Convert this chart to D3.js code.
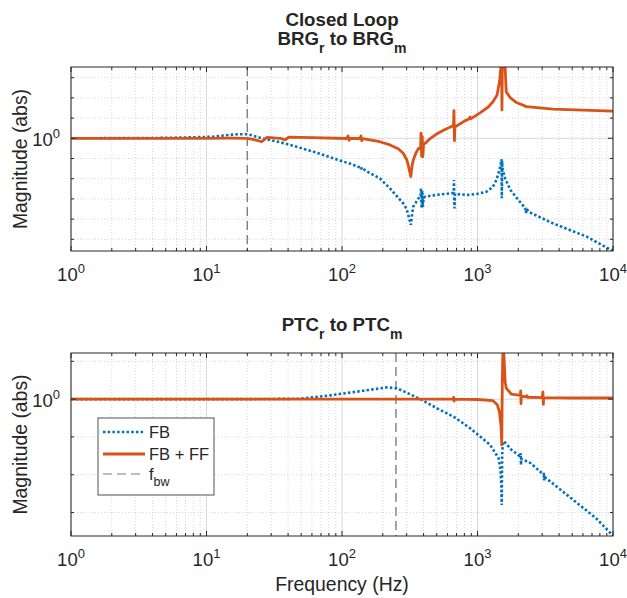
<!DOCTYPE html>
<html>
<head>
<meta charset="utf-8">
<script src="https://cdn.jsdelivr.net/npm/d3@7"></script>
<style>
body { margin: 0; background: #fff; }
text { font-family: "Liberation Sans", Arial, sans-serif; fill: #262626; }
</style>
</head>
<body>
<script>
// values: frequency (Hz) and magnitude (abs)
var brg_fb_freq = [1, 5, 8, 11.2, 14, 17, 20, 21.6, 25, 27.9, 35, 41.5, 61.3, 96.6, 120, 136, 138, 140, 142,
    161, 190, 226, 283, 300, 310, 322, 330, 336, 367, 380, 383, 387, 391, 395, 400, 410, 500, 643, 668, 670,
    676, 682, 700, 840, 1000, 1170, 1300, 1380, 1450, 1490, 1505, 1512, 1520, 1530, 1600, 1750, 2000, 2250,
    2280, 2300, 2400, 3600, 6400, 10000];
var brg_fb_mag = [1, 1.047, 1.122, 1.202, 1.413, 1.585, 1.585, 1.413, 1.047, 0.891, 0.631, 0.468, 0.219,
    0.0794, 0.0501, 0.0355, 0.0398, 0.0282, 0.0316, 0.0186, 0.0105, 0.00331, 0.000603, 0.000316, 0.000141,
    5.13e-5, 0.0002, 0.000417, 0.00107, 0.00126, 0.00331, 0.000339, 0.00251, 0.000398, 0.00112, 0.00129,
    0.00158, 0.00191, 0.002, 0.00871, 0.000339, 0.00178, 0.00174, 0.00155, 0.00178, 0.00229, 0.00398,
    0.00871, 0.0251, 0.0631, 0.0912, 0.00107, 0.0794, 0.0316, 0.01, 0.00275, 0.000891, 0.000355, 0.0002,
    0.000316, 0.000224, 6.17e-5, 1.35e-5, 2.63e-6];

var brg_ff_freq = [1, 10, 15, 20, 22, 25.5, 28, 35, 38, 40.5, 60, 108, 111, 113, 115, 136, 138, 140, 142,
    190, 226, 260, 283, 300, 308, 322, 330, 336, 350, 367, 380, 383, 387, 391, 395, 400, 410, 450, 498, 580,
    643, 665, 670, 676, 682, 700, 800, 870, 880, 890, 1050, 1200, 1300, 1395, 1460, 1490, 1505, 1515, 1525,
    1596, 1630, 1750, 1940, 2300, 3600, 10000];
var brg_ff_mag = [1, 1, 1.023, 1, 0.891, 0.676, 1.122, 1, 0.832, 1.148, 1.072, 0.977, 1.318, 0.794, 0.977,
    0.977, 1.318, 0.759, 0.955, 0.676, 0.468, 0.302, 0.182, 0.0891, 0.0479, 0.0126, 0.0501, 0.0851, 0.178,
    0.316, 0.355, 1.778, 0.126, 1.259, 0.123, 0.501, 0.562, 1, 1.622, 2.818, 3.802, 4.467, 23.44, 0.759,
    4.169, 4.074, 7.079, 9.333, 11.22, 9.12, 18.62, 35.48, 64.57, 138, 794.3, 3981, 3981, 25.12, 3981,
    3981, 199.5, 100, 58.88, 37.15, 27.54, 22.39];

var ptc_fb_freq = [1, 20, 49, 81.6, 143, 213, 253, 318, 398, 500, 663, 882, 1240, 1430, 1480, 1500, 1510,
    1520, 1540, 1600, 1780, 2070, 2085, 2095, 2105, 2460, 3080, 3090, 3100, 3110, 4250, 7500, 10000];
var ptc_fb_mag = [1, 1, 1.023, 1.259, 1.66, 2.042, 1.95, 1.349, 0.912, 0.575, 0.347, 0.17, 0.0617, 0.0275,
    0.0126, 0.00501, 0.00158, 0.0316, 0.0759, 0.0708, 0.0457, 0.0302, 0.0372, 0.0182, 0.0263, 0.0204,
    0.01, 0.0112, 0.00708, 0.00891, 0.00363, 0.000708, 0.000245];

var ptc_ff_freq = [1, 500, 660, 668, 672, 676, 1000, 1300, 1400, 1450, 1490, 1510, 1525, 1540, 1560, 1600,
    1630, 1780, 2070, 2085, 2095, 2105, 2300, 2320, 2340, 3000, 3040, 3060, 3080, 5000, 10000];
var ptc_ff_mag = [1, 1, 1, 1.122, 0.891, 1, 0.977, 0.912, 0.708, 0.468, 0.2, 0.0617, 3.162, 19.95, 19.95,
    2.818, 1.95, 1.349, 1.259, 1.66, 0.759, 1.202, 1.148, 1.23, 1.122, 1.096, 1.549, 0.724, 1.096, 1.072,
    1.072];

var f_bw = [20, 250];
var titles = [["Closed Loop", "BRG", "r", " to BRG", "m"], [null, "PTC", "r", " to PTC", "m"]];
var legend_labels = ["FB", "FB + FF", "f"];
var x_domain = [1, 1e4];

var W = 627, H = 598;
var left = 71, right = 613;
var blue = "#0072BD", orange = "#D95319", axis_col = "#262626";
var dots = "2.5,2.2";

var panels = [
    {top: 67, bottom: 251, ydom: [2.63e-6, 3388], fb: [brg_fb_freq, brg_fb_mag],
     ff: [brg_ff_freq, brg_ff_mag], bw: f_bw[0], title: titles[0]},
    {top: 353, bottom: 536, ydom: [2.4e-4, 16.6], fb: [ptc_fb_freq, ptc_fb_mag],
     ff: [ptc_ff_freq, ptc_ff_mag], bw: f_bw[1], title: titles[1]}
];

var svg = d3.select("body").append("svg").attr("width", W).attr("height", H);

function is_decade(v) {
    var l = Math.log10(v);
    return Math.abs(l - Math.round(l)) < 1e-9;
}

// "10" with a raised exponent
function pow_label(sel, k) {
    sel.append("tspan").text("10");
    sel.append("tspan").attr("dy", -8).style("font-size", "13px").text(k);
}

function draw_panel(p, idx) {
    var x = d3.scaleLog().domain(x_domain).range([left, right]);
    var y = d3.scaleLog().domain(p.ydom).range([p.bottom, p.top]);
    var g = svg.append("g");

    var x_major = x.ticks().filter(is_decade);
    var x_minor = x.ticks().filter(function(v) { return !is_decade(v); });
    var lo = Math.ceil(Math.log10(p.ydom[0])), hi = Math.floor(Math.log10(p.ydom[1]));
    var y_minor = d3.range(lo, hi + 1).filter(function(k) { return k != 0; })
                    .map(function(k) { return Math.pow(10, k); });

    // grid
    g.selectAll(".xminor").data(x_minor).enter().append("line")
        .attr("x1", x).attr("x2", x).attr("y1", p.top).attr("y2", p.bottom)
        .attr("stroke", "#c4c4c4").attr("stroke-width", 0.7).attr("stroke-dasharray", "1,2");
    g.selectAll(".yminor").data(y_minor).enter().append("line")
        .attr("x1", left).attr("x2", right).attr("y1", y).attr("y2", y)
        .attr("stroke", "#c4c4c4").attr("stroke-width", 0.7).attr("stroke-dasharray", "1,2");
    g.selectAll(".xmajor").data(x_major).enter().append("line")
        .attr("x1", x).attr("x2", x).attr("y1", p.top).attr("y2", p.bottom)
        .attr("stroke", "#d8d8d8").attr("stroke-width", 1);
    g.append("line").attr("x1", left).attr("x2", right).attr("y1", y(1)).attr("y2", y(1))
        .attr("stroke", "#d8d8d8").attr("stroke-width", 1);

    var clip_id = "clip" + idx;
    svg.append("clipPath").attr("id", clip_id).append("rect")
        .attr("x", left).attr("y", p.top).attr("width", right - left).attr("height", p.bottom - p.top);
    var cg = g.append("g").attr("clip-path", "url(#" + clip_id + ")");

    cg.append("line").attr("x1", x(p.bw)).attr("x2", x(p.bw)).attr("y1", p.top).attr("y2", p.bottom)
        .attr("stroke", "#7f7f7f").attr("stroke-width", 1.4).attr("stroke-dasharray", "9,5");

    var line = d3.line().x(function(d) { return x(d[0]); }).y(function(d) { return y(d[1]); });
    cg.append("path").datum(d3.zip(p.fb[0], p.fb[1])).attr("d", line)
        .attr("fill", "none").attr("stroke", blue).attr("stroke-width", 2.6)
        .attr("stroke-dasharray", dots);
    cg.append("path").datum(d3.zip(p.ff[0], p.ff[1])).attr("d", line)
        .attr("fill", "none").attr("stroke", orange).attr("stroke-width", 2.8)
        .attr("stroke-linejoin", "round");

    // box and inward ticks
    g.append("rect").attr("x", left).attr("y", p.top).attr("width", right - left)
        .attr("height", p.bottom - p.top).attr("fill", "none").attr("stroke", axis_col).attr("stroke-width", 1);
    var xt = x_major.map(function(v) { return [v, 5]; }).concat(x_minor.map(function(v) { return [v, 3]; }));
    g.selectAll(".xtb").data(xt).enter().append("line")
        .attr("x1", function(d) { return x(d[0]); }).attr("x2", function(d) { return x(d[0]); })
        .attr("y1", p.bottom).attr("y2", function(d) { return p.bottom - d[1]; })
        .attr("stroke", axis_col).attr("stroke-width", 1);
    g.selectAll(".xtt").data(xt).enter().append("line")
        .attr("x1", function(d) { return x(d[0]); }).attr("x2", function(d) { return x(d[0]); })
        .attr("y1", p.top).attr("y2", function(d) { return p.top + d[1]; })
        .attr("stroke", axis_col).attr("stroke-width", 1);
    var yt = [[1, 5]].concat(y_minor.map(function(v) { return [v, 3]; }));
    g.selectAll(".ytl").data(yt).enter().append("line")
        .attr("x1", left).attr("x2", function(d) { return left + d[1]; })
        .attr("y1", function(d) { return y(d[0]); }).attr("y2", function(d) { return y(d[0]); })
        .attr("stroke", axis_col).attr("stroke-width", 1);
    g.selectAll(".ytr").data(yt).enter().append("line")
        .attr("x1", right).attr("x2", function(d) { return right - d[1]; })
        .attr("y1", function(d) { return y(d[0]); }).attr("y2", function(d) { return y(d[0]); })
        .attr("stroke", axis_col).attr("stroke-width", 1);

    // tick labels
    g.selectAll(".xlab").data(x_major).enter().append("text")
        .attr("x", x).attr("y", p.bottom + 30).attr("text-anchor", "middle").style("font-size", "18.5px")
        .each(function(d) { pow_label(d3.select(this), Math.round(Math.log10(d))); });
    g.append("text").attr("x", left - 11).attr("y", y(1) + 8).attr("text-anchor", "end")
        .style("font-size", "18.5px").call(pow_label, 0);

    g.append("text").attr("transform", "translate(27," + ((p.top + p.bottom) / 2) + ") rotate(-90)")
        .attr("text-anchor", "middle").style("font-size", "19.4px").text("Magnitude (abs)");

    // titles
    var cx = (left + right) / 2;
    var t = p.title;
    if (t[0]) {
        svg.append("text").attr("x", cx).attr("y", p.top - 41).attr("text-anchor", "middle")
            .style("font-size", "18.7px").style("font-weight", "bold").text(t[0]);
    }
    var tt = svg.append("text").attr("x", cx).attr("y", p.top - 22).attr("text-anchor", "middle")
        .style("font-size", "18.7px").style("font-weight", "bold");
    tt.append("tspan").text(t[1]);
    tt.append("tspan").attr("dy", 8).style("font-size", "14px").text(t[2]);
    tt.append("tspan").attr("dy", -8).text(t[3]);
    tt.append("tspan").attr("dy", 8).style("font-size", "14px").text(t[4]);
}

panels.forEach(draw_panel);

svg.append("text").attr("x", (left + right) / 2).attr("y", 591).attr("text-anchor", "middle")
    .style("font-size", "19.4px").text("Frequency (Hz)");

// legend
var lg = svg.append("g");
lg.append("rect").attr("x", 98).attr("y", 418).attr("width", 116).attr("height", 77)
    .attr("fill", "#fff").attr("stroke", axis_col).attr("stroke-width", 0.8);
var leg_styles = [
    {stroke: blue, w: 2.6, dash: dots},
    {stroke: orange, w: 2.8, dash: null},
    {stroke: "#7f7f7f", w: 1.2, dash: "9,5"}
];
var leg_y = [432, 454, 474];
lg.selectAll(".ll").data(leg_styles).enter().append("line")
    .attr("x1", 103).attr("x2", 145)
    .attr("y1", function(d, i) { return leg_y[i]; }).attr("y2", function(d, i) { return leg_y[i]; })
    .attr("stroke", function(d) { return d.stroke; }).attr("stroke-width", function(d) { return d.w; })
    .attr("stroke-dasharray", function(d) { return d.dash; });
lg.selectAll(".lt").data(legend_labels).enter().append("text")
    .attr("x", 149).attr("y", function(d, i) { return leg_y[i] + 6; })
    .style("font-size", "16.5px")
    .each(function(d, i) {
        var s = d3.select(this);
        s.append("tspan").text(d);
        if (i == 2) s.append("tspan").attr("dy", 6).style("font-size", "12.5px").text("bw");
    });
</script>
</body>
</html>
